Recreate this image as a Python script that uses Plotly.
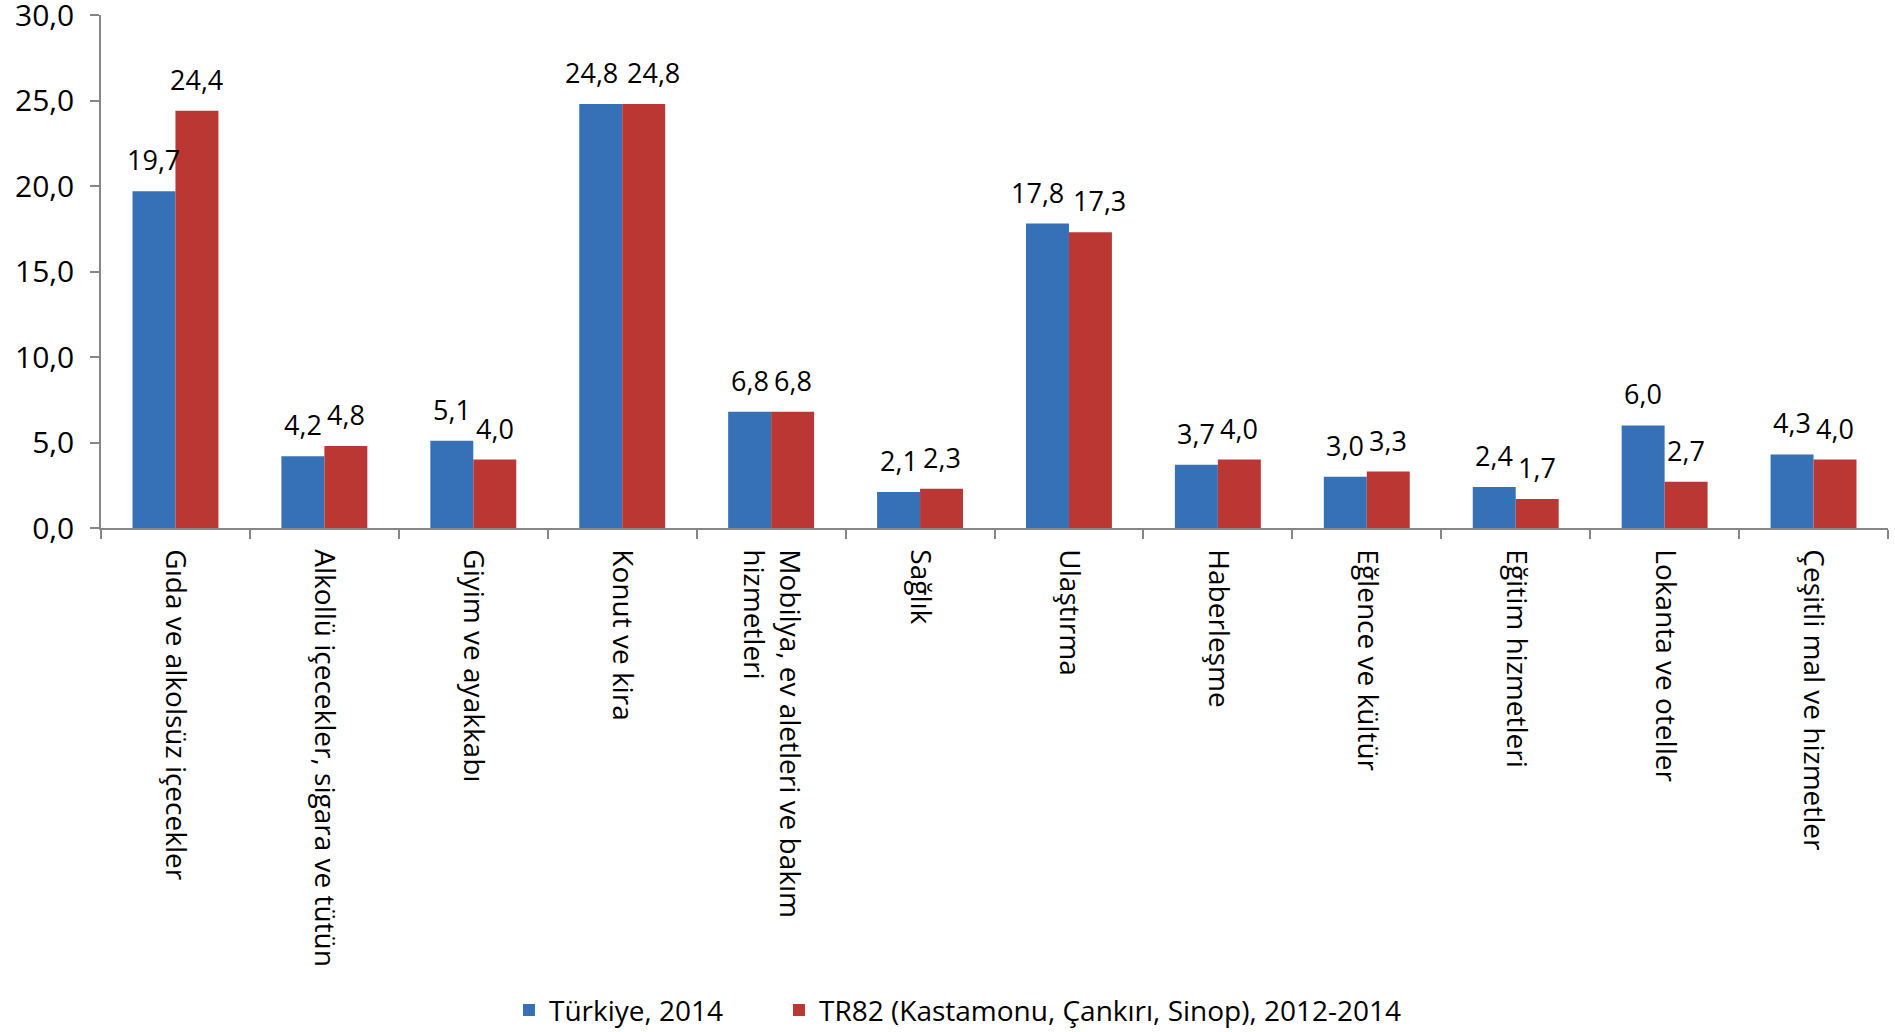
import plotly.graph_objects as go

categories = [
    "Gıda ve alkolsüz içecekler",
    "Alkollü içecekler, sigara ve tütün",
    "Giyim ve ayakkabı",
    "Konut ve kira",
    "Mobilya, ev aletleri ve bakım<br>hizmetleri",
    "Sağlık",
    "Ulaştırma",
    "Haberleşme",
    "Eğlence ve kültür",
    "Eğitim hizmetleri",
    "Lokanta ve oteller",
    "Çeşitli mal ve hizmetler",
]
turkiye_2014 = [19.7, 4.2, 5.1, 24.8, 6.8, 2.1, 17.8, 3.7, 3.0, 2.4, 6.0, 4.3]
tr82_2012_2014 = [24.4, 4.8, 4.0, 24.8, 6.8, 2.3, 17.3, 4.0, 3.3, 1.7, 2.7, 4.0]
series_names = ["Türkiye, 2014", "TR82 (Kastamonu, Çankırı, Sinop), 2012-2014"]
y_ticks = [0, 5, 10, 15, 20, 25, 30]
y_tick_labels = ["0,0", "5,0", "10,0", "15,0", "20,0", "25,0", "30,0"]

FONT = "Open Sans"
BLUE = "#3670B7"
RED = "#BB3734"

def fmt(v):
    return f"{v:.1f}".replace(".", ",")

fig = go.Figure()
fig.add_trace(go.Bar(x=categories, y=turkiye_2014, name=series_names[0],
                     marker=dict(color=BLUE, line=dict(width=0)), legend="legend"))
fig.add_trace(go.Bar(x=categories, y=tr82_2012_2014, name=series_names[1],
                     marker=dict(color=RED, line=dict(width=0)), legend="legend2"))

PX_PER_UNIT = 513 / 30.0
annotations = []
for c, a, b in zip(categories, turkiye_2014, tr82_2012_2014):
    # widen the pair of labels if they would collide (Excel-like placement)
    collide = abs(a - b) * PX_PER_UNIT < 26 and (a >= 10 or b >= 10)
    shift = 31 if collide else 21.5
    for v, s in ((a, -shift), (b, shift)):
        annotations.append(dict(x=c, y=v, text=fmt(v), showarrow=False,
                                xanchor="center", yanchor="bottom",
                                xshift=s, yshift=11,
                                font=dict(family=FONT, size=27, color="#000")))

legend_common = dict(orientation="h", xanchor="left", y=-0.94, yanchor="middle",
                     font=dict(family=FONT, size=28, color="#000"),
                     itemwidth=30, bgcolor="rgba(0,0,0,0)")

fig.update_layout(
    width=1895, height=1032,
    margin=dict(l=101, r=7, t=15, b=504, autoexpand=False),
    paper_bgcolor="white", plot_bgcolor="white",
    barmode="group", bargap=0.423, bargroupgap=0,
    showlegend=True,
    legend=dict(x=0.2283, **legend_common),
    legend2=dict(x=0.3794, **legend_common),
    annotations=annotations,
    font=dict(family=FONT, color="#000"),
)
fig.update_xaxes(
    type="category", automargin=False, showline=True, linecolor="#868686", linewidth=1.5,
    ticks="outside", tickson="boundaries", ticklen=9, tickcolor="#868686", tickwidth=1.5,
    tickangle=90, tickfont=dict(family=FONT, size=28, color="#000"),
    ticklabelstandoff=14,
    showgrid=False, zeroline=False,
)
fig.update_yaxes(
    range=[0, 30], tickvals=y_ticks, ticktext=y_tick_labels, automargin=False,
    showline=True, linecolor="#868686", linewidth=1.5,
    ticks="outside", ticklen=9, tickcolor="#868686", tickwidth=1.5,
    tickfont=dict(family=FONT, size=30, color="#000"),
    ticklabelstandoff=10, ticklabeloverflow="allow",
    showgrid=False, zeroline=False,
)

fig.write_html(
    "out.html",
    config={"displayModeBar": False},
    post_script="document.body.style.margin='0';document.body.style.overflow='hidden';",
)
